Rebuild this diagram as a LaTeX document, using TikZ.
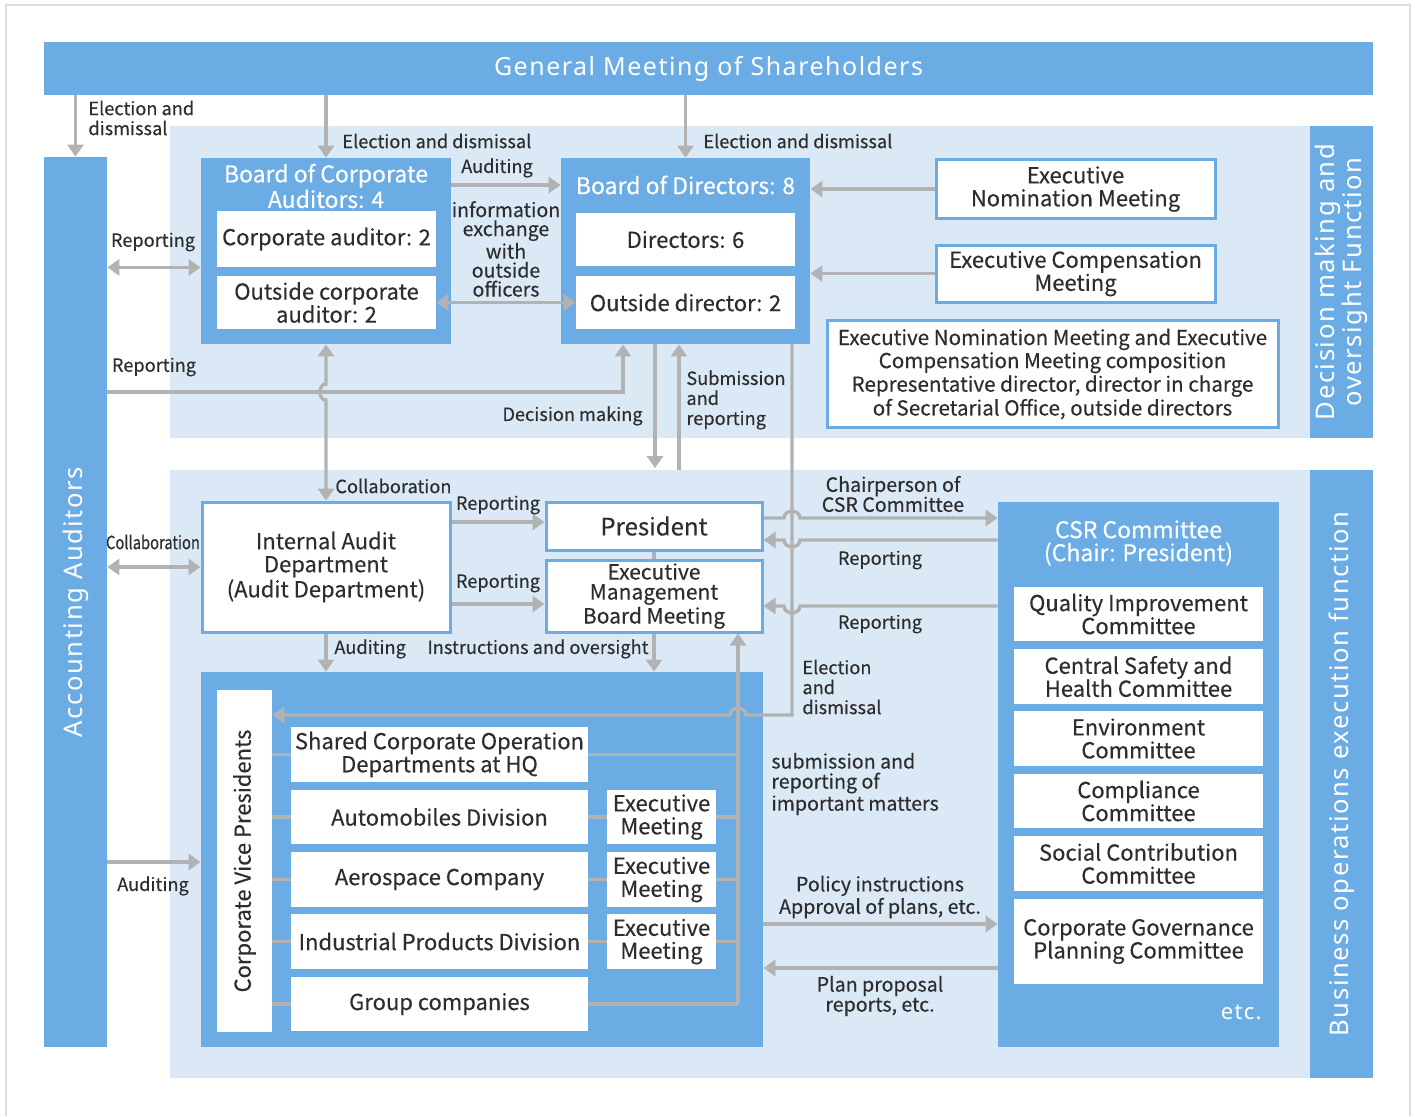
\documentclass[tikz,border=0pt]{standalone}
\usepackage{fontspec}
\setmainfont{Noto Sans CJK JP}[FakeBold=0.3]
\newfontfamily\sidefont[LetterSpace=6]{Noto Sans}
\newfontfamily\narrowfont[FakeStretch=0.8, FakeBold=0.3]{Noto Sans CJK JP}
\usetikzlibrary{arrows.meta}

\definecolor{bandblue}{RGB}{108,172,228}
\definecolor{zoneblue}{RGB}{219,233,247}
\definecolor{arrgrey}{RGB}{178,178,178}
\definecolor{txtgrey}{RGB}{45,45,45}
\definecolor{framegrey}{RGB}{221,221,221}

\tikzset{
  band/.style={fill=bandblue, inner sep=0pt},
  wh/.style 2 args={minimum width=#1*0.5pt, minimum height=#2*0.5pt},
  card/.style={fill=white, inner sep=0pt, align=center, text=txtgrey, font=\fontsize{11}{11.5}\selectfont},
  framed/.style={card, draw=bandblue, line width=1.5pt},
  ttl/.style={text=white, inner sep=0pt, align=center, font=\fontsize{11.5}{11.5}\selectfont},
  sidettl/.style={text=white, inner sep=0pt, align=center, font=\sidefont\fontsize{12.8}{12.5}\selectfont},
  lbl/.style={text=txtgrey, inner sep=0pt, font=\fontsize{9.1}{10}\selectfont},
  lblw/.style={lbl, font=\fontsize{9.8}{10}\selectfont},
  arr/.style={draw=arrgrey, line width=1.7pt, -{Triangle[width=8pt,length=6pt]}},
  darr/.style={draw=arrgrey, line width=1.7pt, {Triangle[width=8pt,length=6pt]}-{Triangle[width=8pt,length=6pt]}},
  ln/.style={draw=arrgrey, line width=1.7pt},
}

\begin{document}
\begin{tikzpicture}[x=0.5pt, y=-0.5pt]
\useasboundingbox (0,0) rectangle (1415,1116);
\draw[framegrey, line width=1pt] (6,1116) -- (6,5) -- (1410,5) -- (1410,1116);

% background zones
\fill[zoneblue] (170,126) rectangle (1310,438);
\fill[zoneblue] (170,470) rectangle (1310,1078);
\node[band, wh={63}{312}] (side1) at (1341.5,282) {};
\node[sidettl, rotate=90] at (side1) {Decision making and\\oversight Function};
\node[band, wh={63}{608}] (side2) at (1341.5,774) {};
\node[sidettl, rotate=90] at (side2) {Business operations execution function};

\node[band, wh={1329}{53}] (gms) at (708.5,68.5) {};
\node[sidettl, font=\sidefont\fontsize{12.5}{13}\selectfont] at (gms) {General Meeting of Shareholders};
\node[band, wh={63}{890}] (accaud) at (75.5,602) {};
\node[sidettl, rotate=90] at (accaud) {Accounting Auditors};

% decision making and oversight
\node[band, wh={250}{186}] (bocaud) at (326,251) {};
\node[ttl] (bocttl) at (326,186) {Board of Corporate\\Auditors: 4};
\node[card, wh={219}{56}] (corpaud) at (326.5,239) {Corporate auditor: 2};
\node[card, wh={219}{53}] (outaud) at (326.5,302.5) {Outside corporate\\auditor: 2};

\node[band, wh={249}{186}] (bod) at (685.5,251) {};
\node[ttl] (bodttl) at (685.5,185) {Board of Directors: 8};
\node[card, wh={219}{53}] (dirs) at (685.5,239.5) {Directors: 6};
\node[card, wh={219}{53}] (outdir) at (685.5,302.5) {Outside director: 2};

\node[framed, wh={279}{59}] (exnom) at (1075.5,189) {Executive\\Nomination Meeting};
\node[framed, wh={279}{57}] (excomp) at (1075.5,273.5) {Executive Compensation\\Meeting};
\node[framed, wh={451}{107}, font=\fontsize{10.3}{10.5}\selectfont] (compo) at (1052.5,374)
  {Executive Nomination Meeting and Executive\\Compensation Meeting composition\\Representative director, director in charge\\of Secretarial Office, outside directors};

% business operations execution
\node[framed, wh={248}{130}] (iad) at (326,567) {Internal Audit\\Department\\(Audit Department)};
\node[framed, wh={216}{48}, font=\fontsize{12}{12}\selectfont] (pres) at (654,526) {President};
\node[framed, wh={216}{72}, font=\fontsize{10.5}{10}\selectfont] (embm) at (654,596) {Executive\\Management\\Board Meeting};

\node[band, wh={562}{375}] (cvpouter) at (482,859.5) {};
\node[card, wh={55}{342}] (cvp) at (244.5,861) {};
\node[text=txtgrey, rotate=90, font=\fontsize{11}{11}\selectfont] at (cvp) {Corporate Vice Presidents};
\coordinate (sub) at (738,1004);
\node[card, wh={297}{55}] (shared) at (439.5,754.5) {Shared Corporate Operation\\Departments at HQ};
\node[card, wh={297}{54}] (auto) at (439.5,817) {Automobiles Division};
\node[card, wh={297}{55}] (aero) at (439.5,879.5) {Aerospace Company};
\node[card, wh={297}{55}] (indus) at (439.5,941.5) {Industrial Products Division};
\node[card, wh={297}{54}] (group) at (439.5,1004) {Group companies};
\node[card, wh={109}{54}] (em1) at (661.5,817) {Executive\\Meeting};
\node[card, wh={109}{55}] (em2) at (661.5,879.5) {Executive\\Meeting};
\node[card, wh={109}{55}] (em3) at (661.5,941.5) {Executive\\Meeting};

\node[band, wh={281}{545}] (csr) at (1138.5,774.5) {};
\node[ttl] (csrttl) at (1138.5,543) {CSR Committee\\(Chair: President)};
\node[card, wh={249}{54}] (qic) at (1138.5,614) {Quality Improvement\\Committee};
\node[card, wh={249}{55}] (csh) at (1138.5,676.5) {Central Safety and\\Health Committee};
\node[card, wh={249}{55}] (env) at (1138.5,738.5) {Environment\\Committee};
\node[card, wh={249}{54}] (comp) at (1138.5,801) {Compliance\\Committee};
\node[card, wh={249}{55}] (soc) at (1138.5,863.5) {Social Contribution\\Committee};
\node[card, wh={249}{85}] (cgp) at (1138.5,941.5) {Corporate Governance\\Planning Committee};
\node[ttl, anchor=east, font=\sidefont\fontsize{11}{11}\selectfont] (etc) at (1262,1012) {etc.};

% rows to vice presidents
\foreach \r in {shared,auto,aero,indus,group}
  \draw[ln] (cvp.east |- \r) -- (\r.west);
\draw[ln] (shared.east) -- (shared.east -| sub);
\draw[ln] (group.east) -- (sub);
\foreach \r/\m in {auto/em1,aero/em2,indus/em3}{
  \draw[ln] (\r.east) -- (\m.west);
  \draw[ln] (\m.east) -- (\m.east -| sub);
}

% connectors
\draw[arr] (gms.south -| accaud) -- (accaud.north);
\draw[arr] (gms.south -| bocaud) -- (bocaud.north);
\draw[arr] (gms.south -| bod) -- (bod.north);
\draw[arr] (bocaud.east |- bodttl) -- (bod.west |- bodttl);
\draw[darr] (outaud.east) -- (outdir.west);
\draw[darr] (accaud.east |- corpaud.south) -- (bocaud.west |- corpaud.south);
\draw[arr] (accaud.east |- 0,392) -- (623,392) -- (bod.south -| 623,0);
\draw[darr] (bocaud.south) -- (326,384) .. controls (318,384) and (318,400) .. (326,400) -- (iad.north);
\draw[arr] (bod.south -| 655,0) -- (655,468);
\draw[arr] (679,470) -- (bod.south -| 679,0);
\draw[arr] (exnom.west) -- (bod.east |- exnom);
\draw[arr] (excomp.west) -- (bod.east |- excomp);

\draw[arr] (bod.south -| 792,0) -- (792,715) -- (746,715) .. controls (746,706) and (730,706) .. (730,715) -- (cvp.east |- 0,715);
\draw[arr] (pres.east |- 0,518) -- (784,518) .. controls (784,509) and (800,509) .. (800,518) -- (csr.west |- 0,518);
\draw[arr] (csr.west |- 0,540) -- (800,540) .. controls (800,549) and (784,549) .. (784,540) -- (pres.east |- 0,540);
\draw[arr] (csr.west |- 0,606) -- (800,606) .. controls (800,615) and (784,615) .. (784,606) -- (embm.east |- 0,606);
\draw[arr] (iad.east |- 0,522) -- (pres.west |- 0,522);
\draw[arr] (iad.east |- 0,604) -- (embm.west |- 0,604);
\draw[darr] (accaud.east |- iad) -- (iad.west);
\draw[arr] (iad.south) -- (cvpouter.north -| iad);
\draw[arr] (embm.south) -- (cvpouter.north -| embm);
\draw[ln] (pres.south) -- (embm.north);
\draw[arr] (sub) -- (embm.south -| sub);
\draw[arr] (cvpouter.east |- 0,924) -- (csr.west |- 0,924);
\draw[arr] (csr.west |- 0,968) -- (cvpouter.east |- 0,968);
\draw[arr] (accaud.east |- 0,862) -- (cvpouter.west |- 0,862);

% labels
\node[lbl, anchor=west, align=left] at (88,118) {Election and\\dismissal};
\node[lbl, anchor=west] at (342,141) {Election and dismissal};
\node[lbl, anchor=west] at (703,141) {Election and dismissal};
\node[lbl] at (497,168) {Auditing};
\node[lblw, align=center, font=\fontsize{9.8}{9.5}\selectfont] at (506,249) {information\\exchange\\with\\outside\\officers};
\node[lbl] at (153,242) {Reporting};
\node[lbl] at (154,367) {Reporting};
\node[lbl, anchor=east] at (643,416) {Decision making};
\node[lbl, anchor=west, align=left] at (686,400) {Submission\\and\\reporting};
\node[lbl, anchor=west] at (335,486) {Collaboration};
\node[lbl] at (498,505) {Reporting};
\node[lbl] at (498,583) {Reporting};
\node[lbl, font=\narrowfont\fontsize{9.2}{10}\selectfont] at (153,542) {Collaboration};
\node[lbl, anchor=west] at (334,649) {Auditing};
\node[lbl] at (538,649) {Instructions and oversight};
\node[lblw, align=center] at (893,494) {Chairperson of\\CSR Committee};
\node[lbl] at (880,560) {Reporting};
\node[lbl] at (880,624) {Reporting};
\node[lbl, anchor=west, align=left] at (802,687) {Election\\and\\dismissal};
\node[lblw, anchor=west, align=left] at (771,784) {submission and\\reporting of\\important matters};
\node[lblw, align=center] at (880,897) {Policy instructions\\Approval of plans, etc.};
\node[lblw, align=center] at (880,996) {Plan proposal\\reports, etc.};
\node[lbl] at (153,886) {Auditing};
\end{tikzpicture}
\end{document}
